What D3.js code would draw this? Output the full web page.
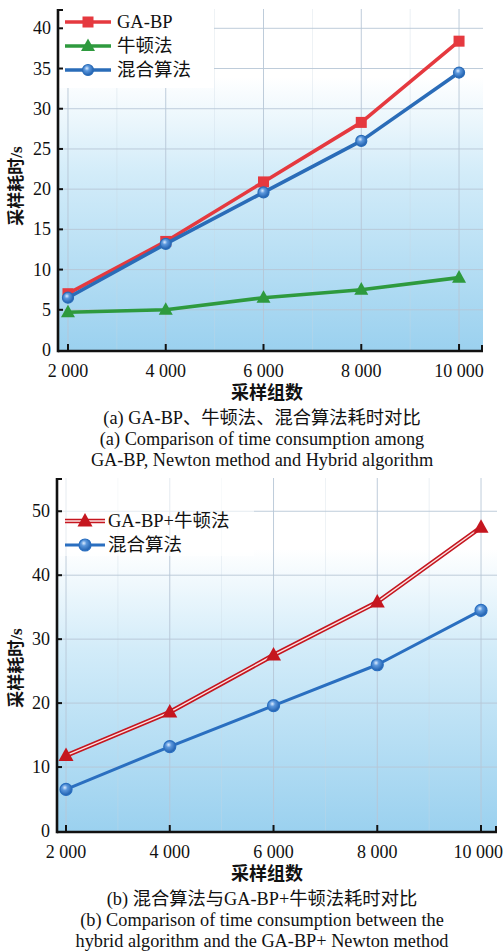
<!DOCTYPE html>
<html>
<head>
<meta charset="utf-8">
<script src="https://cdn.jsdelivr.net/npm/d3@7"></script>
<style>
  html, body { margin: 0; padding: 0; background: #fff; }
  svg { display: block; }
  text { font-family: "Liberation Serif", "Noto Sans CJK SC", serif; fill: #111; }
</style>
</head>
<body>
<svg id="chart"></svg>
<script>
// sample group counts (x) and timings in seconds
const samples = [2000, 4000, 6000, 8000, 10000];
const sampleLabels = ['2 000', '4 000', '6 000', '8 000', '10 000'];
const gaBP = [7.0, 13.5, 20.9, 28.3, 38.4];
const newton = [4.7, 5.0, 6.5, 7.5, 9.0];
const hybrid = [6.5, 13.2, 19.6, 26.0, 34.5];
const gaBPNewton = [11.8, 18.6, 27.5, 35.8, 47.5];
const yTicksA = [0, 5, 10, 15, 20, 25, 30, 35, 40];
const yTicksB = [0, 10, 20, 30, 40, 50];
const minorX = [3000, 5000, 7000, 9000];

const width = 504, height = 952;
const svg = d3.select('#chart').attr('width', width).attr('height', height);
const defs = svg.append('defs');

// plot background: white at top fading to light blue
['bgA', 'bgB'].forEach(id => {
  const gr = defs.append('linearGradient').attr('id', id)
    .attr('x1', 0).attr('y1', 0).attr('x2', 0).attr('y2', 1);
  gr.append('stop').attr('offset', '0%').attr('stop-color', '#ffffff');
  gr.append('stop').attr('offset', '20%').attr('stop-color', '#ffffff');
  gr.append('stop').attr('offset', '48%').attr('stop-color', '#d3ecf9');
  gr.append('stop').attr('offset', '100%').attr('stop-color', '#9bd1ef');
});

// shiny ball marker
const ball = defs.append('radialGradient').attr('id', 'ball')
  .attr('cx', '40%').attr('cy', '35%').attr('r', '65%');
ball.append('stop').attr('offset', '0%').attr('stop-color', '#dcecff');
ball.append('stop').attr('offset', '35%').attr('stop-color', '#5b97dc');
ball.append('stop').attr('offset', '100%').attr('stop-color', '#1f5fae');

function marker(g, type, x, y, color, size) {
  if (type === 'square') {
    g.append('rect').attr('x', x - size / 2).attr('y', y - size / 2)
      .attr('width', size).attr('height', size).attr('fill', color);
  } else if (type === 'triangle') {
    const h = size * 0.9;
    g.append('path')
      .attr('d', `M${x},${y - h * 0.6}L${x + size / 2},${y + h * 0.4}L${x - size / 2},${y + h * 0.4}Z`)
      .attr('fill', color);
  } else {
    g.append('circle').attr('cx', x).attr('cy', y).attr('r', size / 2)
      .attr('fill', 'url(#ball)').attr('stroke', color).attr('stroke-width', 1.2);
  }
}

function drawPanel(cfg) {
  const g = svg.append('g');
  const x = d3.scaleLinear().domain(cfg.xDomain).range([cfg.left, cfg.right]);
  const y = d3.scaleLinear().domain(cfg.yDomain).range([cfg.bottom, cfg.top]);

  g.append('rect')
    .attr('x', cfg.left).attr('y', cfg.top)
    .attr('width', cfg.right - cfg.left).attr('height', cfg.bottom - cfg.top)
    .attr('fill', `url(#${cfg.bg})`);

  // grid
  g.append('g').selectAll('line.minor').data(minorX).join('line')
    .attr('x1', d => x(d)).attr('x2', d => x(d))
    .attr('y1', cfg.top).attr('y2', cfg.bottom)
    .attr('stroke', '#c9d6e2').attr('stroke-width', 0.6).attr('opacity', 0.6);
  g.append('g').selectAll('line').data(samples).join('line')
    .attr('x1', d => x(d)).attr('x2', d => x(d))
    .attr('y1', cfg.top).attr('y2', cfg.bottom)
    .attr('stroke', '#b7c6d6').attr('stroke-width', 0.9);
  g.append('g').selectAll('line').data(cfg.yTicks.slice(1)).join('line')
    .attr('x1', cfg.left).attr('x2', cfg.right)
    .attr('y1', d => y(d)).attr('y2', d => y(d))
    .attr('stroke', '#b7c6d6').attr('stroke-width', 0.9);

  // legend box
  g.append('rect')
    .attr('x', cfg.left + 1).attr('y', cfg.top)
    .attr('width', cfg.legendBox[0]).attr('height', cfg.legendBox[1])
    .attr('fill', '#fff').attr('opacity', cfg.legendOpacity);

  // series
  const line = d3.line().x((d, i) => x(samples[i])).y(d => y(d));
  cfg.series.forEach(s => {
    if (s.double) {
      g.append('path').datum(s.values).attr('d', line)
        .attr('fill', 'none').attr('stroke', s.color).attr('stroke-width', 4.6);
      g.append('path').datum(s.values).attr('d', line)
        .attr('fill', 'none').attr('stroke', '#fbe3e3').attr('stroke-width', 1.4);
    } else {
      g.append('path').datum(s.values).attr('d', line)
        .attr('fill', 'none').attr('stroke', s.color).attr('stroke-width', s.width)
        .attr('stroke-linejoin', 'round');
    }
    s.values.forEach((v, i) => marker(g, s.marker, x(samples[i]), y(v), s.color, s.size));
  });

  // legend
  cfg.series.forEach((s, i) => {
    const ly = cfg.legendY[i];
    const [lx0, lx1] = cfg.legendLine;
    if (s.double) {
      g.append('line').attr('x1', lx0).attr('x2', lx1).attr('y1', ly).attr('y2', ly)
        .attr('stroke', s.color).attr('stroke-width', 4.6);
      g.append('line').attr('x1', lx0).attr('x2', lx1).attr('y1', ly).attr('y2', ly)
        .attr('stroke', '#fbe3e3').attr('stroke-width', 1.4);
    } else {
      g.append('line').attr('x1', lx0).attr('x2', lx1).attr('y1', ly).attr('y2', ly)
        .attr('stroke', s.color).attr('stroke-width', s.width);
    }
    marker(g, s.marker, (lx0 + lx1) / 2, ly, s.color, s.size);
    g.append('text').attr('x', cfg.legendText).attr('y', ly + 6)
      .attr('font-size', 18.5).text(s.name);
  });

  // axes
  const axisY = cfg.bottom + 1;
  g.append('line').attr('x1', cfg.left).attr('x2', cfg.right)
    .attr('y1', axisY).attr('y2', axisY).attr('stroke', '#111').attr('stroke-width', 2.6);
  g.append('line').attr('x1', cfg.left).attr('x2', cfg.left)
    .attr('y1', cfg.top).attr('y2', axisY + 1.3).attr('stroke', '#111').attr('stroke-width', 2.6);
  // axis end caps
  g.append('line').attr('x1', cfg.left).attr('x2', cfg.left + 5)
    .attr('y1', cfg.top + 1).attr('y2', cfg.top + 1).attr('stroke', '#111').attr('stroke-width', 2);
  g.append('line').attr('x1', cfg.right - 1).attr('x2', cfg.right - 1)
    .attr('y1', axisY).attr('y2', axisY - 6).attr('stroke', '#111').attr('stroke-width', 2);

  g.append('g').selectAll('line').data(samples).join('line')
    .attr('x1', d => x(d)).attr('x2', d => x(d))
    .attr('y1', axisY).attr('y2', axisY - 7)
    .attr('stroke', '#111').attr('stroke-width', 2);
  g.append('g').selectAll('line').data(cfg.yTicks.slice(1)).join('line')
    .attr('x1', cfg.left).attr('x2', cfg.left + 5)
    .attr('y1', d => y(d)).attr('y2', d => y(d))
    .attr('stroke', '#111').attr('stroke-width', 2);

  g.append('g').selectAll('text').data(samples).join('text')
    .attr('x', d => x(d)).attr('y', axisY + 26)
    .attr('text-anchor', 'middle').attr('font-size', 18)
    .text((d, i) => sampleLabels[i])
    .each(function (d) {
      // keep the last label inside the page edge
      const w = this.getComputedTextLength();
      if (x(d) + w / 2 > width - 1) {
        d3.select(this).attr('text-anchor', 'end').attr('x', width - 1);
      }
    });
  g.append('g').selectAll('text').data(cfg.yTicks).join('text')
    .attr('x', cfg.left - 7).attr('y', d => y(d) + 6)
    .attr('text-anchor', 'end').attr('font-size', 18)
    .text(d => d);

  g.append('text')
    .attr('transform', `translate(${cfg.yLabelX},${cfg.yLabelY}) rotate(-90)`)
    .attr('text-anchor', 'middle').attr('font-size', 17).attr('font-weight', 'bold')
    .text('采样耗时/s');
  g.append('text').attr('x', 267).attr('y', axisY + 48)
    .attr('text-anchor', 'middle').attr('font-size', 18).attr('font-weight', 'bold')
    .text('采样组数');

  cfg.caption.forEach((t, i) => {
    g.append('text').attr('x', 262).attr('y', axisY + 73 + i * 21)
      .attr('text-anchor', 'middle').attr('font-size', 18.3).text(t);
  });
}

drawPanel({
  left: 58, right: 483, top: 9, bottom: 350,
  xDomain: [1796, 10490], yDomain: [0, 42.4], yTicks: yTicksA, bg: 'bgA',
  legendBox: [155, 79], legendOpacity: 1,
  legendLine: [65, 111], legendY: [22, 46, 70], legendText: 117,
  yLabelX: 22, yLabelY: 186,
  series: [
    { name: 'GA-BP', values: gaBP, color: '#e5393f', width: 3.6, marker: 'square', size: 11 },
    { name: '牛顿法', values: newton, color: '#2e9a3e', width: 3.6, marker: 'triangle', size: 14 },
    { name: '混合算法', values: hybrid, color: '#2a6cb8', width: 3.6, marker: 'circle', size: 11 }
  ],
  caption: [
    '(a) GA-BP、牛顿法、混合算法耗时对比',
    '(a) Comparison of time consumption among',
    'GA-BP, Newton method and Hybrid algorithm'
  ]
});

drawPanel({
  left: 57, right: 497, top: 478, bottom: 831,
  xDomain: [1826, 10308], yDomain: [0, 55.2], yTicks: yTicksB, bg: 'bgB',
  legendBox: [196, 78], legendOpacity: 0.6,
  legendLine: [65, 105], legendY: [521, 545], legendText: 108,
  yLabelX: 22, yLabelY: 668,
  series: [
    { name: 'GA-BP+牛顿法', values: gaBPNewton, color: '#c5161f', width: 4, marker: 'triangle', size: 15, double: true },
    { name: '混合算法', values: hybrid, color: '#2a6fc0', width: 3, marker: 'circle', size: 12 }
  ],
  caption: [
    '(b) 混合算法与GA-BP+牛顿法耗时对比',
    '(b) Comparison of time consumption between the',
    'hybrid algorithm and the GA-BP+ Newton method'
  ]
});
</script>
</body>
</html>
